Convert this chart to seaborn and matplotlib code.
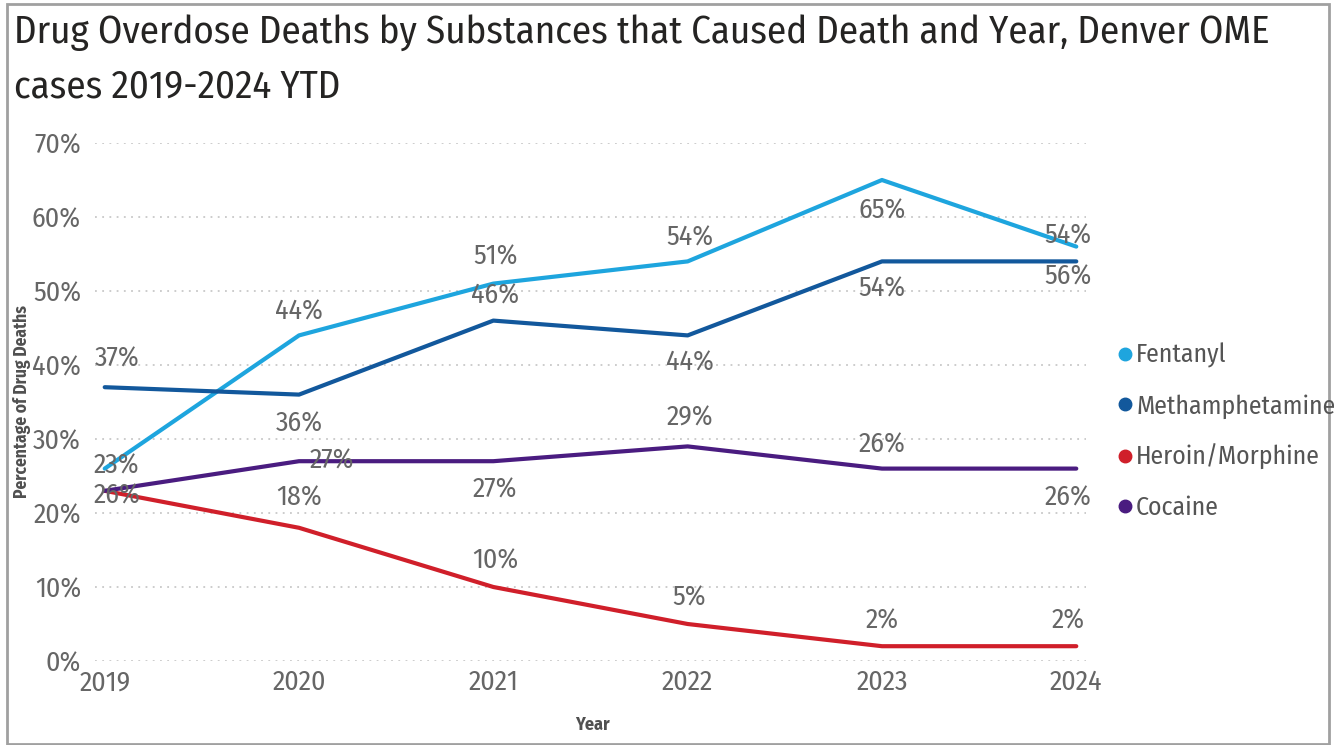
"""
Drug overdose deaths by substance and year, Denver OME cases 2019-2024 YTD.
"""
import matplotlib
matplotlib.use("Agg")
import matplotlib.pyplot as plt
import matplotlib.patches as patches
import pandas as pd
import seaborn as sns

# data (percent of drug deaths)
years = [2019, 2020, 2021, 2022, 2023, 2024]
fentanyl = [26, 44, 51, 54, 65, 56]
methamphetamine = [37, 36, 46, 44, 54, 54]
heroin_morphine = [23, 18, 10, 5, 2, 2]
cocaine = [23, 27, 27, 29, 26, 26]
substances = ["Fentanyl", "Methamphetamine", "Heroin/Morphine", "Cocaine"]
y_ticks = [0, 10, 20, 30, 40, 50, 60, 70]

colors = {
    "Fentanyl": "#1EA5DE",
    "Methamphetamine": "#12589C",
    "Heroin/Morphine": "#D01F2A",
    "Cocaine": "#4A1C80",
}

# label offsets in pixels (dx, dy) for each point; None = label hidden
label_offsets = {
    "Fentanyl": [(12, -27), (0, 24), (2, 27), (2, 24), (0, -31), (-8, -30)],
    "Methamphetamine": [(12, 28), (0, -29), (2, 25), (2, -27), (0, -27), (-8, 26)],
    "Heroin/Morphine": [None, (0, 30), (2, 26), (2, 26), (0, 25), (-8, 25)],
    "Cocaine": [(12, 25), (33, 0), (2, -29), (2, 29), (0, 24), (-8, -29)],
}

series = {
    "Fentanyl": fentanyl,
    "Methamphetamine": methamphetamine,
    "Heroin/Morphine": heroin_morphine,
    "Cocaine": cocaine,
}
rows = []
for name in substances:
    for yr, val in zip(years, series[name]):
        rows.append({"Year": yr, "Percent": val, "Substance": name})
df = pd.DataFrame(rows)

sns.set_style("white")
plt.rcParams["font.family"] = ["Fira Sans Condensed", "DejaVu Sans"]

W, H = 1334, 745
fig = plt.figure(figsize=(W / 100, H / 100), dpi=100)
# axes placed in pixel coordinates of the reference
left, right, top, bottom = 95, 1086, 143, 661
ax = fig.add_axes([left / W, 1 - bottom / H, (right - left) / W, (bottom - top) / H])

sns.lineplot(
    data=df, x="Year", y="Percent", hue="Substance", hue_order=substances,
    palette=colors, linewidth=3, ax=ax, legend=False,
)

ax.set_xlim(2018.95, 2024.05)
ax.set_ylim(0, 70)
ax.set_yticks(y_ticks)
ax.set_yticklabels([f"{t}%" for t in y_ticks])
ax.set_xticks(years)
ax.set_xticklabels([str(y) for y in years])
for s in ax.spines.values():
    s.set_visible(False)
ax.grid(axis="y", linestyle=(0, (1, 3)), color="#C8C8C8", linewidth=1.3)
ax.grid(axis="x", visible=False)
ax.tick_params(axis="both", length=0, labelsize=20, colors="#666666")
ax.tick_params(axis="y", pad=10)
ax.tick_params(axis="x", pad=6)

ax.set_xlabel("Year", fontsize=13, color="#505050", fontweight="bold")
ax.xaxis.set_label_coords((592 - left) / (right - left), -(716 - bottom) / (bottom - top))
ax.set_ylabel("Percentage of Drug Deaths", fontsize=12.5, color="#505050", fontweight="bold")
ax.yaxis.set_label_coords(-(left - 31) / (right - left), 0.5)

# data labels
for name in substances:
    for yr, val, off in zip(years, series[name], label_offsets[name]):
        if off is None:
            continue
        ax.annotate(f"{val}%", (yr, val), xytext=off, textcoords="offset pixels",
                    ha="center", va="center", fontsize=20, color="#666666")

# legend
handles = [plt.Line2D([], [], marker="o", linestyle="", markersize=9,
                      color=colors[n]) for n in substances]
fig.legend(handles, substances, loc="upper left", bbox_to_anchor=(1104 / W, 1 - 333 / H),
           frameon=False, fontsize=18.5, labelcolor="#555555", handletextpad=0.05,
           labelspacing=0.98, handlelength=0.8, borderaxespad=0)

fig.text(14 / W, 1 - 32 / H, "Drug Overdose Deaths by Substances that Caused Death and Year, Denver OME",
         fontsize=28, color="#252423", va="center", ha="left")
fig.text(14 / W, 1 - 87 / H, "cases 2019-2024 YTD",
         fontsize=28, color="#252423", va="center", ha="left")

# outer frame
fig.patches.append(patches.Rectangle((7 / W, 0.002), (W - 12) / W, 1 - 5 / H,
                                     transform=fig.transFigure, fill=False,
                                     edgecolor="#A0A0A0", linewidth=2))

fig.savefig("out.png", dpi=100)
